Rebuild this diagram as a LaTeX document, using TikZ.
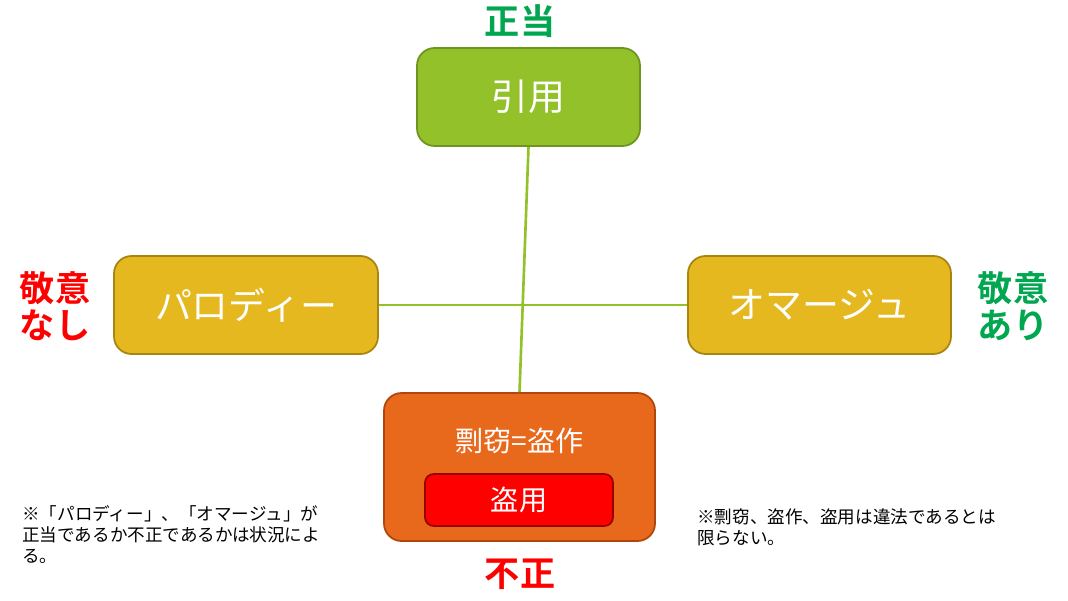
\documentclass[tikz,border=0pt]{standalone}
\usepackage{fontspec}
\setmainfont{Noto Sans CJK JP}
\newfontfamily\jpb{Noto Sans CJK JP Bold}
\definecolor{gfill}{HTML}{92C12A}
\definecolor{gline}{HTML}{6E9520}
\definecolor{yfill}{HTML}{E5B820}
\definecolor{yline}{HTML}{A88510}
\definecolor{ofill}{HTML}{E8681C}
\definecolor{oline}{HTML}{B0460E}
\definecolor{lab}{HTML}{00A650}
\begin{document}
\begin{tikzpicture}[x=0.02cm,y=-0.02cm,
  box/.style={draw,line width=1pt,rounded corners=10pt,text=white,inner sep=0pt},
  conn/.style={draw=gfill,line width=1.5pt},
  big/.style={font=\fontsize{21}{24}\selectfont},
  tag/.style={font=\jpb\fontsize{20}{21}\selectfont,align=center},
  note/.style={font=\fontsize{10}{12}\selectfont,align=left,anchor=north west,inner sep=0pt}]
\useasboundingbox (0,0) rectangle (1068,601);
\node[box,fill=gfill,draw=gline,minimum width=223*0.02cm,minimum height=98*0.02cm,big] (quote) at (528.5,97) {引用};
\node[box,fill=yfill,draw=yline,minimum width=264*0.02cm,minimum height=98*0.02cm,big] (parody) at (246,305) {パロディー};
\node[box,fill=yfill,draw=yline,minimum width=263*0.02cm,minimum height=98*0.02cm,big] (hommage) at (819.5,305) {オマージュ};
\node[box,fill=ofill,draw=oline,minimum width=271*0.02cm,minimum height=148*0.02cm] (plag) at (519.5,467) {};
\node[text=white,font=\fontsize{16}{18}\selectfont] (plagt) at (519.5,441) {剽窃=盗作};
\node[box,fill=red,draw=red!60!black,rounded corners=5pt,minimum width=188*0.02cm,minimum height=52*0.02cm,font=\fontsize{16}{18}\selectfont] (theft) at (519,500) {盗用};
\draw[conn] (quote.south) -- (plag.north);
\draw[conn] (parody.east) -- (hommage.west);
\node[tag,text=lab] (just) at (520,21) {正当};
\node[tag,text=red] (unjust) at (520,574) {不正};
\node[tag,text=red] (norespect) at (55,306) {敬意\\なし};
\node[tag,text=lab] (respect) at (1013,306) {敬意\\あり};
\node[note] (n1) at (22,505) {※「パロディー」、「オマージュ」が\\正当であるか不正であるかは状況によ\\る。};
\node[note] (n2) at (697,508) {※剽窃、盗作、盗用は違法であるとは\\限らない。};
\end{tikzpicture}
\end{document}
